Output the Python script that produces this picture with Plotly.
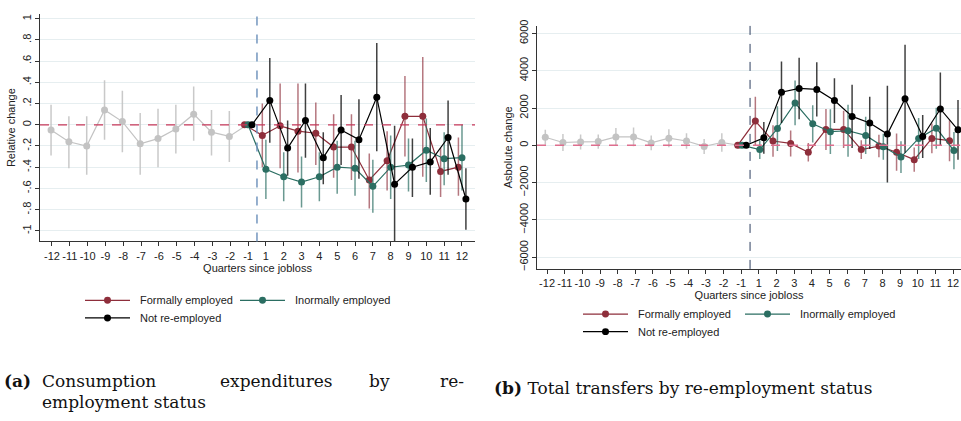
import plotly.graph_objects as go

W, H = 961, 421

quarters = [-12, -11, -10, -9, -8, -7, -6, -5, -4, -3, -2, -1, 1, 2, 3, 4, 5, 6, 7, 8, 9, 10, 11, 12]
tick_labels = [str(q) for q in quarters]

# panel (a): relative change in consumption
pre_a = [-0.05, -0.16, -0.2, 0.14, 0.03, -0.18, -0.13, -0.04, 0.1, -0.07, -0.11, 0]
pre_a_lo = [-0.29, -0.41, -0.47, -0.14, -0.26, -0.47, -0.4, -0.27, -0.15, -0.29, -0.35, 0]
pre_a_hi = [0.19, 0.08, 0.08, 0.42, 0.32, 0.11, 0.15, 0.19, 0.36, 0.14, 0.13, 0]
formal_a = [-0.1, -0.01, -0.06, -0.08, -0.21, -0.21, -0.52, -0.34, 0.08, 0.08, -0.44, -0.4]
formal_a_lo = [-0.4, -0.41, -0.45, -0.38, -0.5, -0.52, -0.79, -0.62, -0.3, -0.49, -0.68, -0.67]
formal_a_hi = [0.2, 0.39, 0.39, 0.21, 0.1, 0.1, -0.27, -0.06, 0.46, 0.64, -0.22, -0.12]
informal_a = [-0.42, -0.49, -0.54, -0.49, -0.4, -0.41, -0.58, -0.4, -0.38, -0.24, -0.32, -0.31]
informal_a_ci = [0.28, 0.23, 0.24, 0.23, 0.25, 0.26, 0.25, 0.3, 0.25, 0.3, 0.25, 0.31]
notemp_a = [0.23, -0.22, 0.04, -0.31, -0.05, -0.14, 0.26, -0.56, -0.4, -0.35, -0.12, -0.7]
notemp_a_lo = [-0.17, -0.48, -0.31, -0.56, -0.38, -0.51, -0.25, -1.11, -0.68, -0.66, -0.47, -0.99]
notemp_a_hi = [0.63, 0.04, 0.39, -0.07, 0.28, 0.24, 0.77, -0.01, -0.13, -0.03, 0.23, -0.41]

# panel (b): absolute change in total transfers
pre_b = [430, 150, 180, 200, 450, 450, 130, 380, 230, -60, 150, 0]
pre_b_ci = [400, 450, 400, 380, 480, 500, 400, 480, 420, 400, 500, 0]
formal_b = [1300, 230, 100, -370, 850, 850, -230, -40, -370, -770, 370, 250]
formal_b_ci = [1300, 850, 700, 500, 1100, 1000, 500, 600, 1000, 650, 800, 1100]
informal_b = [-230, 900, 2270, 1150, 730, 780, 530, -80, -630, 370, 920, -280]
informal_b_ci = [500, 1200, 1200, 1000, 1200, 1400, 1000, 700, 850, 1100, 1100, 1000]
notemp_b = [400, 2850, 3050, 3000, 2400, 1550, 1200, 600, 2500, 470, 1950, 830]
notemp_b_ci = [850, 1650, 1650, 1450, 1200, 1700, 1400, 2600, 2900, 1150, 1950, 1600]

GRAY, RED, TEAL, BLACK = "#c3c3c3", "#8e2e3b", "#2b6e62", "#000000"
RED_E, TEAL_E, BLACK_E = "rgba(142,46,59,0.65)", "rgba(43,110,98,0.7)", "rgba(0,0,0,0.75)"
FONT = "Liberation Sans"

pre_idx = list(range(12))
post_idx = list(range(12, 24))


def px(x):
    return x / W


def py(y):
    return 1 - y / H


fig = go.Figure()


def series(xa, ya, xs, ys, lo, hi, color, ecolor, off, base=True):
    x = [i + off for i in xs]
    yv = list(ys)
    up = [h - v for h, v in zip(hi, yv)]
    dn = [v - l for l, v in zip(lo, yv)]
    if base:
        x = [11 + off] + x
        yv = [0] + yv
        up = [0] + up
        dn = [0] + dn
    fig.add_trace(go.Scatter(
        x=x, y=yv, mode="lines+markers", xaxis=xa, yaxis=ya, showlegend=False,
        line=dict(color=color, width=1.2), marker=dict(color=color, size=7),
        error_y=dict(type="data", array=up, arrayminus=dn, color=ecolor, thickness=1.5, width=0),
    ))


# panel a
series("x", "y", pre_idx, pre_a, pre_a_lo, pre_a_hi, GRAY, "rgba(195,195,195,0.9)", -0.05, base=False)
series("x", "y", post_idx, formal_a, formal_a_lo, formal_a_hi, RED, RED_E, -0.2)
series("x", "y", post_idx, informal_a, [v - c for v, c in zip(informal_a, informal_a_ci)],
       [v + c for v, c in zip(informal_a, informal_a_ci)], TEAL, TEAL_E, 0.0)
series("x", "y", post_idx, notemp_a, notemp_a_lo, notemp_a_hi, BLACK, BLACK_E, 0.22)

# panel b
def ci(v, c):
    return [a - b for a, b in zip(v, c)], [a + b for a, b in zip(v, c)]


lo, hi = ci(pre_b, pre_b_ci)
series("x2", "y2", pre_idx, pre_b, lo, hi, GRAY, "rgba(195,195,195,0.9)", -0.1, base=False)
lo, hi = ci(formal_b, formal_b_ci)
series("x2", "y2", post_idx, formal_b, lo, hi, RED, RED_E, -0.2)
lo, hi = ci(informal_b, informal_b_ci)
series("x2", "y2", post_idx, informal_b, lo, hi, TEAL, TEAL_E, 0.05)
lo, hi = ci(notemp_b, notemp_b_ci)
series("x2", "y2", post_idx, notemp_b, lo, hi, BLACK, BLACK_E, 0.28)

axis_common = dict(showline=True, linecolor="#333", linewidth=1, ticks="outside", ticklen=4,
                   tickcolor="#333", tickfont=dict(family=FONT, size=11, color="#222"), zeroline=False)

fig.update_layout(
    width=W, height=H, margin=dict(l=0, r=0, t=0, b=0),
    paper_bgcolor="white", plot_bgcolor="white", showlegend=False,
    xaxis=dict(domain=[px(40), px(475)], range=[-0.67, 23.73], tickvals=list(range(24)),
               ticktext=tick_labels, showgrid=False, anchor="y", tickangle=0,
               title=dict(text="Quarters since jobloss", font=dict(family=FONT, size=11, color="#222"), standoff=2),
               **axis_common),
    yaxis=dict(domain=[py(240), py(8)], range=[-1.1, 1.046],
               tickvals=[-1, -0.8, -0.6, -0.4, -0.2, 0, 0.2, 0.4, 0.6, 0.8, 1],
               ticktext=["-1", "-.8", "-.6", "-.4", "-.2", "0", ".2", ".4", ".6", ".8", "1"],
               tickangle=-90, showgrid=True, gridcolor="#e6eef0", anchor="x",
               title=dict(text="Relative change", font=dict(family=FONT, size=11, color="#222"), standoff=2),
               **axis_common),
    xaxis2=dict(domain=[px(537), 1.0], range=[-0.57, 23.45], tickvals=list(range(24)),
                ticktext=tick_labels, showgrid=False, anchor="y2", tickangle=0,
                title=dict(text="Quarters since jobloss", font=dict(family=FONT, size=11, color="#222"), standoff=2),
                **axis_common),
    yaxis2=dict(domain=[py(268), py(20)], range=[-6630, 6420],
                tickvals=[-6000, -4000, -2000, 0, 2000, 4000, 6000],
                tickangle=-90, showgrid=True, gridcolor="#e6eef0", anchor="x2",
                title=dict(text="Asbolute change", font=dict(family=FONT, size=11, color="#222"), standoff=2),
                **axis_common),
)

# reference lines
fig.add_shape(type="line", xref="x domain", yref="y", x0=0, x1=1, y0=0, y1=0,
              line=dict(color="#c8385a", width=1.3, dash="dash"))
fig.add_shape(type="line", xref="x", yref="y domain", x0=11.5, x1=11.5, y0=0, y1=1,
              line=dict(color="#7396be", width=1.5, dash="dash"))
fig.add_shape(type="line", xref="x2 domain", yref="y2", x0=0, x1=1, y0=0, y1=0,
              line=dict(color="#de6e8e", width=1.5, dash="dash"))
fig.add_shape(type="line", xref="x2", yref="y2 domain", x0=11.5, x1=11.5, y0=0, y1=1,
              line=dict(color="#2d3e60", width=1, dash="dash"))

# manual legends
legend_items = [
    (85, 300, RED, "Formally employed"), (240, 300, TEAL, "Inormally employed"), (85, 318, BLACK, "Not re-employed"),
    (583, 314, RED, "Formally employed"), (745, 314, TEAL, "Inormally employed"), (583, 332, BLACK, "Not re-employed"),
]
for x0, y0, col, txt in legend_items:
    fig.add_shape(type="line", xref="paper", yref="paper", x0=px(x0), x1=px(x0 + 45), y0=py(y0), y1=py(y0),
                  line=dict(color=col, width=1.2))
    fig.add_shape(type="circle", xref="paper", yref="paper", x0=px(x0 + 19), x1=px(x0 + 26),
                  y0=py(y0 + 3.5), y1=py(y0 - 3.5), fillcolor=col, line=dict(color=col, width=0))
    fig.add_annotation(xref="paper", yref="paper", x=px(x0 + 53), y=py(y0), text=txt, showarrow=False,
                       xanchor="left", yanchor="middle", font=dict(family=FONT, size=11, color="#222"))

# captions
SERIF = "DejaVu Serif"
caps = [
    (2, 382, "<b>(a)</b>"), (40, 382, "Consumption"), (218, 382, "expenditures"), (367, 382, "by"),
    (438, 382, "re-"), (40, 404, "employment status"), (492, 389, "<b>(b)</b> Total transfers by re-employment status"),
]
for x0, y0, txt in caps:
    fig.add_annotation(xref="paper", yref="paper", x=px(x0), y=py(y0), text=txt, showarrow=False,
                       xanchor="left", yanchor="middle", font=dict(family=SERIF, size=17, color="#111"))

fig.write_html("out.html", config={"displayModeBar": False},
               post_script="document.body.style.margin='0';document.body.style.overflow='hidden';")
